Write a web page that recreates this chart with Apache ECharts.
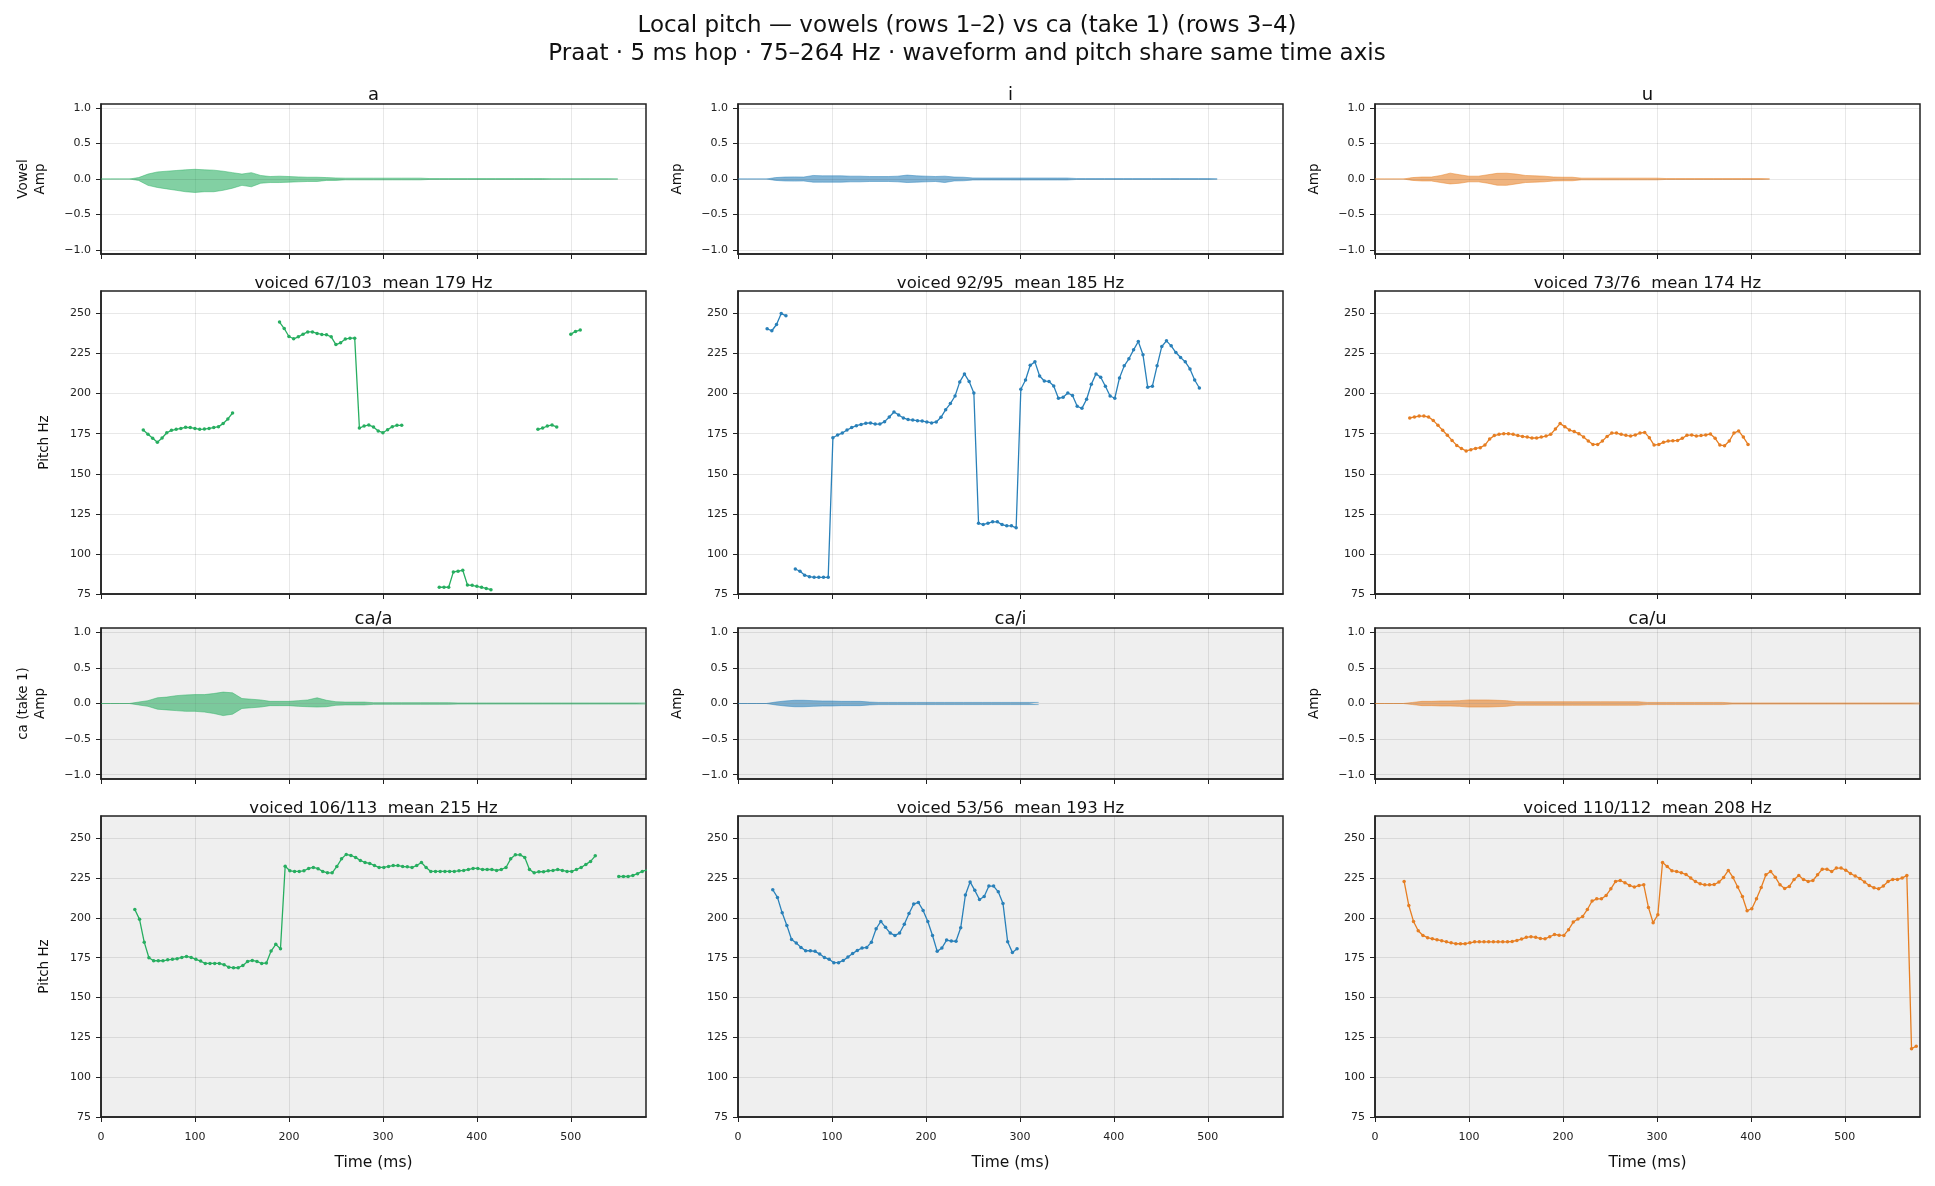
<!DOCTYPE html>
<html>
<head>
    <meta charset="utf-8"/>
    <title>Local pitch — vowels vs ca</title>
    <script src="https://cdn.jsdelivr.net/npm/echarts@6/dist/echarts.min.js"></script>
    <style>
        html, body { margin: 0; padding: 0; background: #fff; }
        #main { width: 1935px; height: 1186px; }
    </style>
</head>
<body>
<div id="main"></div>
<script>
    // ---- data ----
    const hopMs = 5;          // pitch frame hop
    const envStepMs = 10;     // waveform envelope bin
    const timeMax = 580;
    const timeTicks = [0, 100, 200, 300, 400, 500];
    const pitchTicks = [75, 100, 125, 150, 175, 200, 225, 250];
    const ampTicks = [-1, -0.5, 0, 0.5, 1];

    const colTitles = ['a', 'i', 'u'];
    const caTitles = ['ca/a', 'ca/i', 'ca/u'];
    const vowelPitchTitles = ['voiced 67/103  mean 179 Hz', 'voiced 92/95  mean 185 Hz', 'voiced 73/76  mean 174 Hz'];
    const caPitchTitles = ['voiced 106/113  mean 215 Hz', 'voiced 53/56  mean 193 Hz', 'voiced 110/112  mean 208 Hz'];
    const colors = ['#27ae60', '#2980b9', '#e67e22'];

    // waveform envelopes (upper / lower magnitude), one value per 10 ms from t=0
    const envTopA = [0, 0, 0, 0, 0.02, 0.07, 0.10, 0.11, 0.12, 0.13, 0.137, 0.13, 0.125, 0.11, 0.09, 0.07, 0.09, 0.05, 0.035, 0.04,
        0.035, 0.03, 0.025, 0.025, 0.02, 0.015, 0.012, 0.012, 0.012, 0.012, 0.012, 0.012, 0.012, 0.012, 0.012,
        0.006, 0.006, 0.006, 0.006, 0.006, 0.006, 0.006, 0.006, 0.006, 0.006, 0.006, 0.006, 0.006,
        0.003, 0.003, 0.003, 0.003, 0.003, 0.003, 0.003, 0.003];
    const envBotA = [0, 0, 0, 0, 0.02, 0.09, 0.12, 0.14, 0.16, 0.18, 0.19, 0.18, 0.18, 0.16, 0.13, 0.09, 0.11, 0.06, 0.05, 0.05,
        0.045, 0.04, 0.035, 0.035, 0.02, 0.02, 0.012, 0.012, 0.012, 0.012, 0.012, 0.012, 0.012, 0.012, 0.012,
        0.006, 0.006, 0.006, 0.006, 0.006, 0.006, 0.006, 0.006, 0.006, 0.006, 0.006, 0.006, 0.006,
        0.003, 0.003, 0.003, 0.003, 0.003, 0.003, 0.003, 0.003];
    const envTopI = [0, 0, 0, 0, 0.02, 0.028, 0.03, 0.028, 0.05, 0.045, 0.045, 0.045, 0.04, 0.04, 0.035, 0.035, 0.035, 0.04, 0.055, 0.045,
        0.04, 0.035, 0.04, 0.028, 0.025, 0.015, 0.014, 0.014, 0.014, 0.014, 0.014, 0.014, 0.014, 0.014, 0.014, 0.014,
        0.007, 0.007, 0.007, 0.007, 0.007, 0.007, 0.007, 0.007, 0.007, 0.007, 0.007, 0.007, 0.007, 0.007, 0.007, 0.007];
    const envBotI = [0, 0, 0, 0, 0.02, 0.028, 0.03, 0.028, 0.045, 0.045, 0.045, 0.045, 0.04, 0.04, 0.035, 0.035, 0.035, 0.04, 0.05, 0.045,
        0.04, 0.035, 0.05, 0.028, 0.025, 0.015, 0.014, 0.014, 0.014, 0.014, 0.014, 0.014, 0.014, 0.014, 0.014, 0.014,
        0.007, 0.007, 0.007, 0.007, 0.007, 0.007, 0.007, 0.007, 0.007, 0.007, 0.007, 0.007, 0.007, 0.007, 0.007, 0.007];
    const envTopU = [0, 0, 0, 0, 0.02, 0.028, 0.028, 0.05, 0.083, 0.06, 0.04, 0.04, 0.06, 0.08, 0.082, 0.07, 0.05, 0.045, 0.04, 0.028,
        0.025, 0.025, 0.012, 0.012, 0.012, 0.012, 0.012, 0.012, 0.012, 0.012, 0.012,
        0.006, 0.006, 0.006, 0.006, 0.006, 0.006, 0.006, 0.006, 0.006, 0.006, 0.006, 0.006];
    const envBotU = [0, 0, 0, 0, 0.02, 0.028, 0.028, 0.05, 0.07, 0.06, 0.04, 0.04, 0.06, 0.088, 0.09, 0.07, 0.05, 0.045, 0.04, 0.028,
        0.025, 0.025, 0.012, 0.012, 0.012, 0.012, 0.012, 0.012, 0.012, 0.012, 0.012,
        0.006, 0.006, 0.006, 0.006, 0.006, 0.006, 0.006, 0.006, 0.006, 0.006, 0.006, 0.006];
    const envTopCaA = [0, 0, 0, 0, 0.02, 0.04, 0.08, 0.09, 0.11, 0.12, 0.125, 0.125, 0.14, 0.16, 0.15, 0.07, 0.06, 0.05, 0.03, 0.03,
        0.03, 0.04, 0.05, 0.08, 0.045, 0.025, 0.02, 0.02, 0.02,
        0.012, 0.012, 0.012, 0.012, 0.012, 0.012, 0.012, 0.012, 0.012,
        0.008, 0.008, 0.008, 0.008, 0.008, 0.008, 0.008, 0.008, 0.008, 0.008, 0.008, 0.008, 0.008, 0.008, 0.008, 0.008, 0.008, 0.008, 0.008, 0.008, 0.008];
    const envBotCaA = [0, 0, 0, 0, 0.02, 0.04, 0.08, 0.09, 0.10, 0.11, 0.11, 0.12, 0.14, 0.17, 0.15, 0.07, 0.06, 0.05, 0.03, 0.03,
        0.03, 0.04, 0.045, 0.05, 0.045, 0.025, 0.02, 0.02, 0.02,
        0.012, 0.012, 0.012, 0.012, 0.012, 0.012, 0.012, 0.012, 0.012,
        0.008, 0.008, 0.008, 0.008, 0.008, 0.008, 0.008, 0.008, 0.008, 0.008, 0.008, 0.008, 0.008, 0.008, 0.008, 0.008, 0.008, 0.008, 0.008, 0.008, 0.008];
    const envCaI = [0, 0, 0, 0, 0.02, 0.035, 0.045, 0.045, 0.04, 0.035, 0.035, 0.03, 0.03, 0.03, 0.02,
        0.015, 0.015, 0.015, 0.015, 0.015, 0.015, 0.015, 0.015, 0.015, 0.015, 0.015, 0.015, 0.015, 0.015, 0.015, 0.015, 0.015, 0.015];
    const envCaU = [0, 0, 0, 0, 0.015, 0.03, 0.03, 0.035, 0.035, 0.04, 0.05, 0.05, 0.05, 0.045, 0.04,
        0.025, 0.025, 0.025, 0.025, 0.025, 0.025, 0.025, 0.025, 0.025, 0.025, 0.025, 0.025, 0.025, 0.025,
        0.015, 0.015, 0.015, 0.015, 0.015, 0.015, 0.015, 0.015, 0.015,
        0.008, 0.008, 0.008, 0.008, 0.008, 0.008, 0.008, 0.008, 0.008, 0.008, 0.008, 0.008, 0.008, 0.008, 0.008, 0.008, 0.008, 0.008, 0.008, 0.008, 0.008];

    // pitch tracks (Hz), one value per 5 ms frame from the start time, null = unvoiced
    const pitchAStart = 45;
    const pitchA = [177.3, 174.6, 172.1, 169.6, 172.3, 175.6, 177.1, 177.7, 178.3, 179.0, 178.8, 178.3, 177.7, 177.9, 178.3, 178.8, 179.4, 181.3, 184.2, 187.9,
        null, null, null, null, null, null, null, null, null,
        244.6, 240.6, 235.6, 234.2, 235.4, 237.1, 238.5, 238.5, 237.5, 236.9, 236.7, 235.4, 230.6, 231.7, 234.0, 234.6, 234.6,
        178.5, 179.8, 180.4, 179.2, 176.7, 175.6, 177.5, 179.4, 180.2, 180.2,
        null, null, null, null, null, null, null,
        79.2, 79.2, 79.2, 88.8, 89.2, 89.8, 80.6, 80.4, 79.8, 79.2, 78.5, 77.7,
        null, null, null, null, null, null, null, null, null,
        177.7, 178.5, 179.8, 180.4, 179.2,
        null, null,
        237.1, 238.8, 239.6];
    const pitchIStart = 31;
    const pitchI = [240.4, 239.2, 243.1, 250.0, 248.5,
        null,
        90.6, 89.2, 86.7, 85.8, 85.4, 85.4, 85.4, 85.4,
        172.5, 174.2, 175.4, 177.3, 178.8, 180.0, 180.8, 181.5, 181.7, 181.0, 181.0, 182.5, 185.4, 188.5, 186.7, 184.8,
        183.8, 183.5, 183.1, 182.9, 182.3, 181.7, 182.3, 185.2, 190.0, 193.8, 198.5, 207.3, 212.3, 207.5, 200.4,
        119.2, 118.3, 119.2, 120.0, 120.0, 118.3, 117.5, 117.5, 116.3,
        202.7, 208.5, 217.7, 219.8, 211.0, 207.9, 207.5, 204.8, 197.1, 197.7, 200.4, 198.8, 192.1, 190.8, 196.5, 205.8,
        212.3, 210.2, 204.6, 198.5, 197.1, 209.8, 217.3, 221.7, 227.3, 232.5, 224.2, 204.0, 204.6, 217.3, 229.4, 232.9,
        229.8, 225.6, 222.5, 219.8, 215.4, 208.5, 203.5];
    const pitchUStart = 37;
    const pitchU = [184.8, 185.4, 186.0, 186.0, 185.4, 183.3, 180.2, 177.1, 174.0, 170.8,
        167.7, 165.8, 164.2, 165.0, 165.8, 166.3, 167.9, 171.7, 173.8, 174.6,
        175.0, 175.0, 174.6, 173.8, 173.3, 172.9, 172.3, 172.3, 172.9, 173.5,
        174.6, 177.9, 181.3, 179.4, 177.3, 176.3, 175.0, 172.9, 170.4, 168.3,
        168.3, 170.4, 173.3, 175.4, 175.4, 174.6, 174.0, 173.5, 174.2, 175.4,
        175.8, 172.5, 167.9, 168.3, 169.6, 170.4, 170.6, 170.8, 172.1, 174.0,
        174.2, 173.5, 173.8, 174.2, 174.8, 172.1, 167.9, 167.5, 170.4, 175.4,
        176.7, 172.9, 168.3];
    const pitchCaAStart = 36;
    const pitchCaA = [205.3, 199.1, 184.8, 175.0, 173.1, 173.1, 173.1, 173.7, 174.0, 174.4,
        175.2, 175.8, 175.2, 174.0, 172.9, 171.4, 171.4, 171.4, 171.4, 170.6,
        169.1, 168.7, 168.7, 170.2, 172.7, 173.3, 172.7, 171.4, 171.7, 179.2,
        183.4, 180.6, 232.5, 229.6, 229.2, 229.2, 229.6, 231.1, 231.7, 230.9,
        229.2, 228.3, 228.3, 232.3, 237.1, 239.9, 239.2, 238.0, 236.1, 234.8,
        234.2, 232.9, 231.7, 231.7, 232.3, 232.9, 232.9, 232.3, 232.1, 231.7,
        232.9, 234.8, 231.7, 229.2, 229.2, 229.2, 229.2, 229.2, 229.2, 229.6,
        229.8, 230.4, 231.1, 231.1, 230.4, 230.4, 230.4, 229.8, 230.4, 231.7,
        237.1, 239.6, 239.6, 238.0, 230.4, 228.3, 229.0, 229.0, 229.6, 229.8,
        230.4, 229.8, 229.2, 229.2, 230.4, 231.7, 233.6, 235.5, 239.0,
        null, null, null, null,
        226.0, 226.0, 226.0, 226.7, 227.8, 229.2, 230.2];
    const pitchCaIStart = 37;
    const pitchCaI = [217.7, 212.9, 203.2, 195.3, 186.5, 184.2, 181.5, 179.4, 179.4, 179.0,
        177.3, 175.2, 174.0, 171.9, 171.9, 173.3, 175.4, 177.7, 179.6, 181.1,
        181.5, 184.8, 193.2, 197.8, 194.1, 190.5, 189.0, 190.5, 196.0, 202.8,
        208.7, 209.7, 204.7, 197.8, 189.0, 179.0, 181.1, 186.1, 185.5, 185.3,
        193.8, 214.4, 222.6, 217.3, 211.6, 213.5, 220.0, 220.0, 216.4, 209.1,
        185.0, 178.3, 180.6];
    const pitchCaUStart = 31;
    const pitchCaU = [222.9, 207.8, 197.8, 191.9, 189.0, 187.6, 186.9, 186.3, 185.7, 185.0,
        184.4, 183.8, 183.8, 183.8, 184.4, 185.0, 185.0, 185.0, 185.0, 185.0,
        185.0, 185.0, 185.0, 185.2, 185.9, 186.7, 187.8, 188.2, 187.8, 187.1,
        186.9, 188.2, 189.6, 189.2, 189.0, 192.6, 197.4, 199.3, 200.9, 205.3,
        210.6, 212.0, 212.0, 214.1, 218.3, 222.9, 223.5, 222.1, 220.4, 219.4,
        220.4, 220.8, 206.6, 197.0, 202.0, 234.8, 232.3, 229.6, 229.2, 228.3,
        227.3, 225.0, 222.9, 221.4, 220.8, 220.8, 221.0, 222.5, 225.4, 229.8,
        225.4, 219.4, 213.5, 204.5, 205.8, 212.0, 219.1, 227.1, 229.2, 225.6,
        220.8, 218.5, 219.8, 224.2, 226.7, 224.2, 222.9, 223.5, 227.1, 230.6,
        230.6, 229.2, 231.3, 231.3, 230.0, 227.9, 226.3, 224.8, 222.5, 220.4,
        218.9, 218.3, 220.0, 222.9, 224.2, 224.2, 225.0, 226.7, 117.9, 119.4];

    // ---- layout ----
    const colLeft = [101, 738, 1375];
    const colW = 545;
    const rowTop = [104, 291, 628, 816];
    const rowH = [150, 303, 151, 301];
    const rowBg = ['#ffffff', '#ffffff', '#efefef', '#efefef'];
    const font = 'DejaVu Sans';
    const ink = '#222';
    const gridColor = 'rgba(0,0,0,0.09)';

    const wavePanels = [
        [envTopA, envBotA], [envTopI, envBotI], [envTopU, envBotU],
        [envTopCaA, envBotCaA], [envCaI, envCaI], [envCaU, envCaU]
    ];
    const pitchPanels = [
        [pitchAStart, pitchA], [pitchIStart, pitchI], [pitchUStart, pitchU],
        [pitchCaAStart, pitchCaA], [pitchCaIStart, pitchCaI], [pitchCaUStart, pitchCaU]
    ];

    function fmtAmp(v) {
        return (v < 0 ? '\u2212' : '') + Math.abs(v).toFixed(1);
    }

    let grids = [], xAxes = [], yAxes = [], series = [];
    let titles = [
        {
            text: 'Local pitch — vowels (rows 1–2) vs ca (take 1) (rows 3–4)',
            left: 967, top: 15, textAlign: 'center', padding: 0,
            textStyle: {fontFamily: font, fontSize: 23, fontWeight: 'normal', color: '#111'}
        },
        {
            text: 'Praat · 5 ms hop · 75–264 Hz · waveform and pitch share same time axis',
            left: 967, top: 43, textAlign: 'center', padding: 0,
            textStyle: {fontFamily: font, fontSize: 23, fontWeight: 'normal', color: '#111'}
        }
    ];

    for (let r = 0; r < 4; r++) {
        for (let c = 0; c < 3; c++) {
            const idx = r * 3 + c;
            const isWave = (r % 2 === 0);
            const block = r < 2 ? 0 : 1;
            const color = colors[c];

            grids.push({
                left: colLeft[c], top: rowTop[r], width: colW, height: rowH[r],
                show: true, backgroundColor: rowBg[r], borderColor: ink, borderWidth: 1.5,
                containLabel: false
            });

            xAxes.push({
                gridIndex: idx, type: 'value', min: 0, max: timeMax, interval: 100,
                axisLine: {show: true, onZero: false, lineStyle: {color: ink, width: 1.5}},
                axisTick: {show: true, length: 5, lineStyle: {color: ink, width: 1}, customValues: timeTicks},
                axisLabel: {show: r === 3, fontFamily: font, fontSize: 11, color: ink, margin: 15, customValues: timeTicks},
                splitLine: {show: true, lineStyle: {color: gridColor, width: 1}},
                name: r === 3 ? 'Time (ms)' : '', nameLocation: 'middle', nameGap: 38,
                nameTextStyle: {fontFamily: font, fontSize: 15.5, color: '#111'}
            });

            let yName = '';
            if (isWave) {
                yName = c === 0 ? (block === 0 ? 'Vowel\nAmp' : 'ca (take 1)\nAmp') : 'Amp';
            } else if (c === 0) {
                yName = 'Pitch Hz';
            }

            if (isWave) {
                yAxes.push({
                    gridIndex: idx, type: 'value', min: -1.06, max: 1.06,
                    axisLine: {show: true, onZero: false, lineStyle: {color: ink, width: 1.5}},
                    axisTick: {show: true, length: 5, lineStyle: {color: ink, width: 1}, customValues: ampTicks},
                    axisLabel: {fontFamily: font, fontSize: 11, color: ink, margin: 10, customValues: ampTicks, formatter: fmtAmp},
                    splitLine: {show: false},
                    name: yName, nameLocation: 'middle', nameGap: 52, nameRotate: 90,
                    nameTextStyle: {fontFamily: font, fontSize: 13.5, lineHeight: 17, color: '#111'}
                });
                const env = wavePanels[block * 3 + c];
                series.push({
                    type: 'line', xAxisIndex: idx, yAxisIndex: idx,
                    data: env[0].map((v, i) => [i * envStepMs, v]),
                    symbol: 'none', animation: false, silent: true,
                    lineStyle: {color: color, width: 0.8, opacity: 0.6},
                    areaStyle: {color: color, opacity: 0.58, origin: 0},
                    markLine: {
                        silent: true, symbol: 'none', label: {show: false}, animation: false,
                        lineStyle: {color: gridColor, type: 'solid', width: 1},
                        data: ampTicks.map(v => ({yAxis: v}))
                    }
                });
                series.push({
                    type: 'line', xAxisIndex: idx, yAxisIndex: idx,
                    data: env[1].map((v, i) => [i * envStepMs, -v]),
                    symbol: 'none', animation: false, silent: true,
                    lineStyle: {color: color, width: 0.8, opacity: 0.6},
                    areaStyle: {color: color, opacity: 0.58, origin: 0}
                });
                titles.push({
                    text: block === 0 ? colTitles[c] : caTitles[c],
                    left: colLeft[c] + colW / 2, top: rowTop[r] - 18, textAlign: 'center', padding: 0,
                    textStyle: {fontFamily: font, fontSize: 18, fontWeight: 'normal', color: '#111'}
                });
            } else {
                yAxes.push({
                    gridIndex: idx, type: 'value', min: 75, max: 264, interval: 25,
                    axisLine: {show: true, onZero: false, lineStyle: {color: ink, width: 1.5}},
                    axisTick: {show: true, length: 5, lineStyle: {color: ink, width: 1}, customValues: pitchTicks},
                    axisLabel: {fontFamily: font, fontSize: 11, color: ink, margin: 10, customValues: pitchTicks},
                    splitLine: {show: true, lineStyle: {color: gridColor, width: 1}},
                    name: yName, nameLocation: 'middle', nameGap: 50, nameRotate: 90,
                    nameTextStyle: {fontFamily: font, fontSize: 13.5, color: '#111'}
                });
                const p = pitchPanels[block * 3 + c];
                series.push({
                    type: 'line', xAxisIndex: idx, yAxisIndex: idx,
                    data: p[1].map((v, i) => [p[0] + i * hopMs, v]),
                    connectNulls: false, animation: false,
                    symbol: 'circle', symbolSize: 3.5, showSymbol: true,
                    lineStyle: {color: color, width: 1.3},
                    itemStyle: {color: color}
                });
                titles.push({
                    text: block === 0 ? vowelPitchTitles[c] : caPitchTitles[c],
                    left: colLeft[c] + colW / 2, top: rowTop[r] - 16, textAlign: 'center', padding: 0,
                    textStyle: {fontFamily: font, fontSize: 16.5, fontWeight: 'normal', color: '#111'}
                });
            }
        }
    }

    let myChart = echarts.init(document.getElementById('main'), null, {renderer: 'canvas'});
    let option = {
        backgroundColor: '#ffffff',
        animation: false,
        textStyle: {fontFamily: font},
        title: titles,
        grid: grids,
        xAxis: xAxes,
        yAxis: yAxes,
        series: series
    };
    myChart.setOption(option);
</script>
</body>
</html>
